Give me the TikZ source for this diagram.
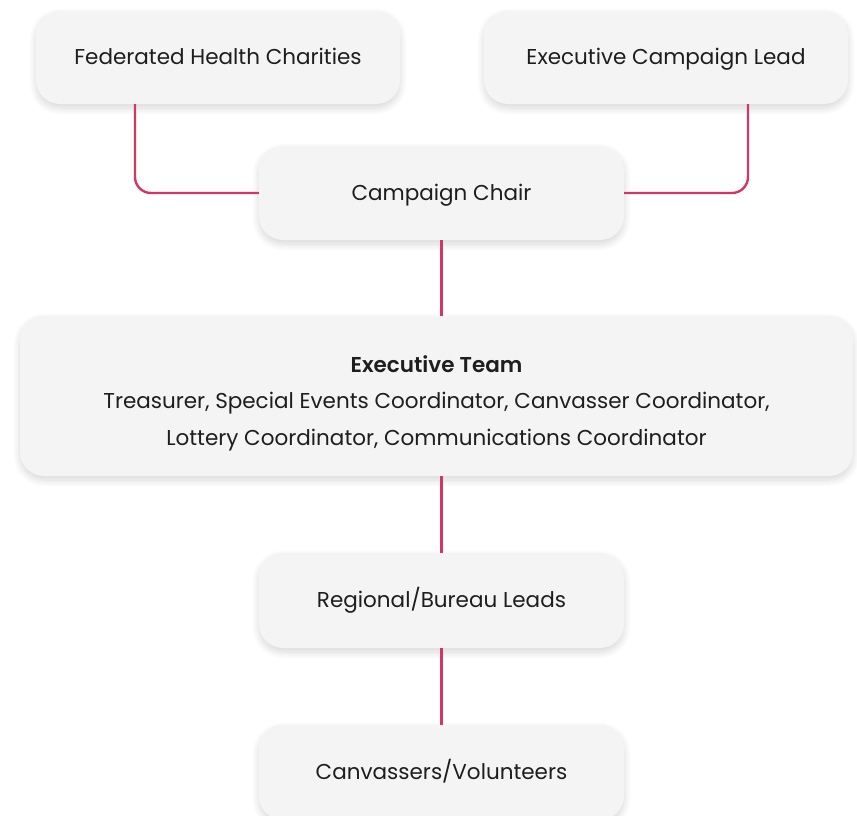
\documentclass[tikz,border=0pt]{standalone}
\usepackage{fontspec}
\setmainfont{Poppins}[BoldFont={Poppins SemiBold}]
\usetikzlibrary{shadows.blur,positioning}
\definecolor{linec}{RGB}{214,52,98}
\definecolor{boxfill}{RGB}{244,244,244}
\definecolor{txt}{RGB}{30,30,30}
\begin{document}
\begin{tikzpicture}[x=1pt,y=-1pt,
  card/.style={rounded corners=24pt, fill=boxfill, draw=none,
    blur shadow={shadow xshift=0pt, shadow yshift=-4pt, shadow blur radius=7pt, shadow blur steps=10, shadow opacity=16},
    inner sep=0pt, align=center, text=txt, font=\fontsize{21.5}{26}\selectfont},
  one/.style={text height=19pt, text depth=5pt},
  label/.style={inner sep=0pt, align=center, text=txt, font=\fontsize{21.5}{36.5}\selectfont},
  conn/.style={draw=linec, line width=2.4pt, rounded corners=16pt}]
\useasboundingbox (0,0) rectangle (857,816);
\node[card, one, minimum width=364pt, minimum height=93pt] (fhc) at (218,57.5) {Federated Health Charities};
\node[card, one, minimum width=364pt, minimum height=93pt] (ecl) at (666,57.5) {Executive Campaign Lead};
\node[card, one, minimum width=365pt, minimum height=94pt] (cc) at (441.5,193) {Campaign Chair};
\node[card, minimum width=833pt, minimum height=160pt] (et) at (436.5,396) {};
\node[label] (ettext) at (436.5,403)
  {\textbf{Executive Team}\\Treasurer, Special Events Coordinator, Canvasser Coordinator,\\Lottery Coordinator, Communications Coordinator};
\node[card, one, minimum width=365pt, minimum height=95pt] (rl) at (441.5,600.5) {Regional/Bureau Leads};
\node[card, one, minimum width=365pt, minimum height=95pt] (cv) at (441.5,772.5) {Canvassers/Volunteers};
\draw[conn] (fhc.south -| 135,0) |- (cc.west);
\draw[conn] (ecl.south -| 748,0) |- (cc.east);
\draw[conn] (cc.south) -- (et.north -| cc.south);
\draw[conn] (et.south -| cc.south) -- (rl.north);
\draw[conn] (rl.south) -- (cv.north);
\end{tikzpicture}
\end{document}
